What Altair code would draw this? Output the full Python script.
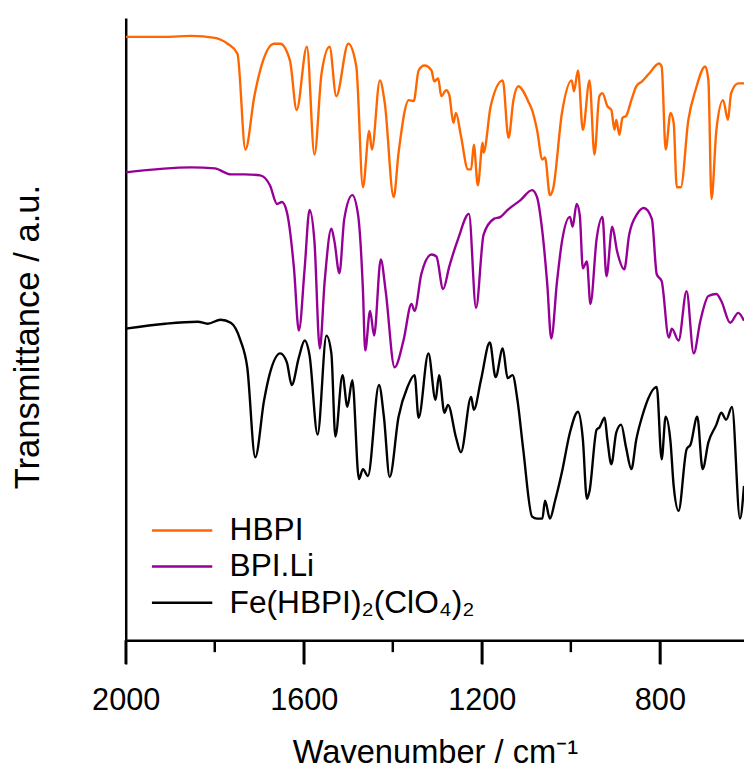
import altair as alt
import pandas as pd

# ---- data (wavenumber in cm^-1, transmittance in a.u.) ----
hbpi_wn = [2000, 1911, 1853, 1800, 1771, 1749, 1731, 1711, 1698, 1667, 1653, 1631, 1616, 1593,
           1576, 1560, 1542, 1527, 1500, 1482, 1467, 1453, 1447, 1429, 1418, 1398, 1387, 1364,
           1353, 1342, 1329, 1313, 1307, 1298, 1291, 1280, 1273, 1264, 1258, 1247, 1231, 1224,
           1218, 1209, 1198, 1196, 1180, 1153, 1140, 1129, 1118, 1107, 1096, 1087, 1076, 1064,
           1058, 1047, 1040, 1020, 998, 993, 984, 973, 958, 947, 936, 929, 918, 909, 902, 898,
           891, 884, 876, 864, 853, 840, 824, 802, 796, 787, 776, 769, 762, 753, 736, 720, 698,
           691, 684, 673, 658, 647, 640, 624, 611]
hbpi_t = [610, 610, 611, 609, 603, 593, 496, 550, 576, 603, 603, 586, 536, 600,
          491, 573, 600, 550, 603, 580, 458, 515, 496, 566, 543, 448, 493, 546,
          545, 576, 581, 576, 565, 568, 550, 556, 551, 523, 533, 510, 476, 476,
          501, 460, 503, 493, 540, 566, 508, 546, 560, 555, 545, 536, 516, 486,
          488, 450, 456, 533, 566, 555, 576, 516, 566, 491, 550, 553, 540, 536, 516, 526,
          511, 528, 530, 546, 560, 565, 573, 583, 580, 496, 533, 523, 458, 458, 526, 556, 580,
          566, 446, 516, 546, 526, 553, 563, 563]

bpili_wn = [2000, 1853, 1800, 1764, 1733, 1698, 1676, 1660, 1649, 1638, 1622, 1611, 1598, 1587,
            1576, 1564, 1553, 1538, 1531, 1520, 1509, 1491, 1478, 1467, 1462, 1451, 1442, 1427,
            1416, 1396, 1376, 1358, 1351, 1336, 1313, 1302, 1287, 1273, 1253, 1229, 1213, 1196,
            1173, 1158, 1142, 1113, 1087, 1076, 1064, 1053, 1044, 1031, 1020, 1002, 996, 987,
            980, 973, 964, 956, 942, 929, 920, 907, 896, 880, 869, 851, 836, 818, 807, 796, 780,
            773, 758, 740, 724, 709, 691, 673, 662, 642, 624, 611]
bpili_t = [473, 478, 477, 471, 471, 470, 460, 441, 443, 433, 376, 313, 376, 435,
           403, 295, 363, 416, 403, 371, 426, 450, 430, 353, 293, 333, 308, 385,
           353, 276, 303, 340, 333, 370, 390, 388, 355, 378, 406, 431, 336, 410,
           426, 428, 435, 445, 455, 448, 413, 360, 305, 363, 403, 428, 418, 441,
           430, 376, 383, 340, 406, 428, 368, 418, 393, 375, 410, 431, 437, 426, 370, 363, 306,
           315, 303, 353, 290, 323, 348, 350, 343, 321, 331, 323]

fe_wn = [2000, 1911, 1838, 1816, 1787, 1764, 1742, 1727, 1709, 1689, 1676, 1653, 1638, 1627,
         1611, 1598, 1587, 1569, 1549, 1538, 1529, 1513, 1502, 1491, 1476, 1467, 1456, 1431,
         1420, 1407, 1387, 1367, 1351, 1342, 1320, 1304, 1296, 1284, 1276, 1258, 1247, 1224,
         1218, 1202, 1182, 1169, 1153, 1142, 1131, 1120, 1107, 1087, 1076, 1064, 1058, 1047,
         1036, 1020, 1002, 984, 973, 964, 958, 942, 936, 924, 918, 909, 898, 887, 876, 864,
         853, 840, 807, 796, 787, 776, 769, 758, 740, 731, 716, 704, 691, 673, 662, 651, 638,
         620, 611]
fe_t = [315, 320, 322, 320, 324, 321, 303, 276, 185, 243, 270, 290, 281, 258,
        286, 303, 288, 208, 308, 290, 206, 268, 236, 263, 163, 173, 166, 258,
        226, 165, 226, 256, 268, 225, 290, 243, 268, 230, 238, 205, 190, 246,
        233, 263, 301, 266, 295, 265, 268, 243, 193, 125, 123, 123, 141, 123,
        140, 170, 210, 231, 203, 143, 151, 213, 215, 225, 203, 178, 210, 218, 195, 173,
        203, 226, 256, 183, 226, 200, 156, 131, 193, 198, 226, 173, 200, 218, 230, 223, 236,
        123, 156]

series_names = ["HBPI", "BPI.Li", "Fe(HBPI)\u2082(ClO\u2084)\u2082"]
series_colors = ["#FF6600", "#960096", "#000000"]
major_ticks = [2000, 1600, 1200, 800]
minor_ticks = [1800, 1400, 1000]

rows = []
for name, wn, t in zip(series_names, [hbpi_wn, bpili_wn, fe_wn], [hbpi_t, bpili_t, fe_t]):
    for i, (a, b) in enumerate(zip(wn, t)):
        rows.append({"series": name, "wn": a, "t": b, "order": i})
df = pd.DataFrame(rows)
minor_df = pd.DataFrame({"wn": minor_ticks})
major_df = pd.DataFrame({"wn": major_ticks})

FONT = "Liberation Sans"
x_scale = alt.Scale(domain=[2000, 611], nice=False, zero=False)
x_axis = alt.Axis(
    values=major_ticks,
    title="Wavenumber / cm\u207b\u00b9",
    titleFont=FONT, titleFontSize=33, titleFontWeight="normal", titleColor="black",
    titleX=312.5, titleY=124, titleBaseline="alphabetic", titleAlign="center",
    labelFont=FONT, labelFontSize=31, labelColor="black",
    labelPadding=22, labelBaseline="top",
    labelFlush=False, labelOverlap=False,
    tickSize=24, tickWidth=2.5, tickColor="black",
    domainColor="black", domainWidth=2.5,
    grid=False, format="d")

lines = alt.Chart(df).mark_line(strokeWidth=2.4, interpolate="monotone", clip=True).encode(
    x=alt.X("wn:Q", scale=x_scale, axis=x_axis),
    y=alt.Y("t:Q",
            scale=alt.Scale(domain=[0, 629], nice=False, zero=False),
            axis=alt.Axis(
                title="Transmittance / a.u.",
                titleFont=FONT, titleFontSize=35, titleFontWeight="normal", titleColor="black",
                titleX=-99, titleY=322, titleAngle=270, titleBaseline="middle", titleAlign="center",
                labels=False, ticks=False, grid=False,
                domainColor="black", domainWidth=2.5)),
    color=alt.Color("series:N",
                    scale=alt.Scale(domain=series_names, range=series_colors),
                    legend=alt.Legend(
                        title=None, orient="none", legendX=25, legendY=502,
                        symbolType="stroke", symbolSize=3721, symbolStrokeWidth=2.5,
                        clipHeight=32,
                        labelFont=FONT, labelFontSize=32, labelColor="black",
                        labelOffset=16, rowPadding=4.5, padding=0,
                        labelLimit=600)),
    order="order:Q",
)

minor = alt.Chart(minor_df).mark_rule(color="black", strokeWidth=2.5).encode(
    x=alt.X("wn:Q", scale=x_scale, axis=x_axis),
    y=alt.value(629),
    y2=alt.value(641),
)

major = alt.Chart(major_df).mark_rule(color="black", strokeWidth=2.5).encode(
    x=alt.X("wn:Q", scale=x_scale, axis=x_axis),
    y=alt.value(629),
    y2=alt.value(653),
)

chart = alt.layer(lines, minor, major).properties(
    width=625, height=629,
    background="white",
    autosize=alt.AutoSizeParams(type="none"),
    padding={"left": 119, "top": 6, "right": 0, "bottom": 130},
).configure_view(stroke=None, strokeWidth=0)

chart.save("out.html", embed_options={"renderer": "svg", "actions": False})
